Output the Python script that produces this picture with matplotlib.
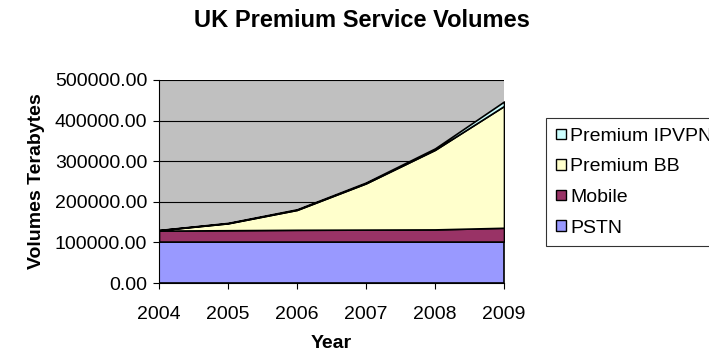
import matplotlib.pyplot as plt
from matplotlib.patches import Patch

plt.rcParams['font.family'] = ['Liberation Sans', 'DejaVu Sans']

years = [2004, 2005, 2006, 2007, 2008, 2009]
pstn = [102000, 102000, 102000, 102000, 102000, 102000]
mobile = [27000, 28000, 29000, 29500, 30000, 34000]
premium_bb = [1000, 17000, 49000, 114000, 196000, 300000]
premium_ipvpn = [500, 1000, 1500, 2000, 3500, 11000]

names = ['PSTN', 'Mobile', 'Premium BB', 'Premium IPVPN']
colors = ['#9999FF', '#993366', '#FFFFCC', '#CCFFFF']

fs = 14

fig = plt.figure(figsize=(7.09, 3.55), dpi=100)
ax = fig.add_axes([159 / 709, 1 - 283 / 355, 345 / 709, 203 / 355])
ax.set_facecolor('#C0C0C0')

ax.stackplot(years, pstn, mobile, premium_bb, premium_ipvpn,
             colors=colors, edgecolor='black', linewidth=1.2, zorder=2)

ax.set_xlim(2004, 2009)
ax.set_ylim(0, 500000)
ax.set_xticks(years)
ax.set_yticks(range(0, 500001, 100000))
ax.set_yticklabels(['%.2f' % v for v in range(0, 500001, 100000)])
ax.grid(axis='y', color='black', linewidth=0.8, zorder=1)
ax.set_axisbelow(True)
ax.tick_params(labelsize=fs, length=4.5, color='black')
ax.tick_params(axis='y', pad=4)
ax.tick_params(axis='x', pad=12)
for s in ['top', 'right']:
    ax.spines[s].set_visible(False)

ax.set_xlabel('Year', fontsize=fs, fontweight='bold', labelpad=9)
ax.set_ylabel('Volumes Terabytes', fontsize=fs, fontweight='bold', labelpad=7)
fig.text(362 / 709, 1 - 27 / 355, 'UK Premium Service Volumes', ha='center', va='baseline',
         fontsize=17, fontweight='bold')

handles = [Patch(facecolor=c, edgecolor='black', label=n) for c, n in zip(colors, names)]
leg = fig.legend(handles[::-1], names[::-1], loc='upper left',
                 bbox_to_anchor=(546 / 709, 1 - 118 / 355), fontsize=fs,
                 frameon=True, fancybox=False, edgecolor='black',
                 handlelength=0.55, handleheight=0.45, handletextpad=0.2,
                 labelspacing=0.7, borderpad=0.5, borderaxespad=0)
leg.get_frame().set_linewidth(0.8)

fig.savefig('out.png', dpi=100)
